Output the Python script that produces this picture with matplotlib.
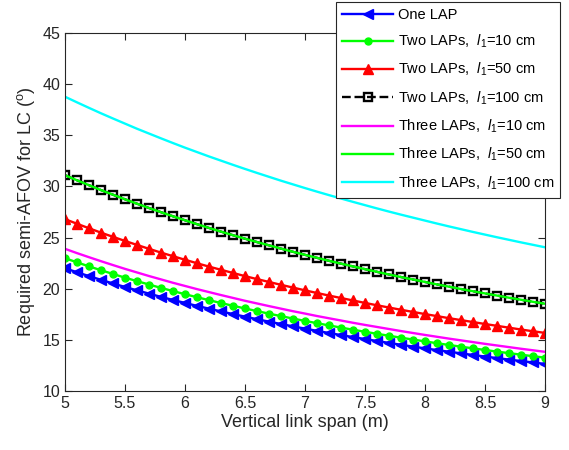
# Required semi-AFOV vs vertical link span, MATLAB-style line plot

import numpy as np
import matplotlib
matplotlib.use('Agg')
import matplotlib.pyplot as plt
import matplotlib.ticker as ticker

plt.rcParams['font.family'] = ['Liberation Sans', 'DejaVu Sans']
plt.rcParams['mathtext.fontset'] = 'custom'
plt.rcParams['mathtext.rm'] = 'Liberation Sans'
plt.rcParams['mathtext.it'] = 'Liberation Sans:italic'

# vertical link span (m), 5 to 9 in 0.1 m steps
span = [5.0, 5.1, 5.2, 5.3, 5.4, 5.5, 5.6, 5.7, 5.8, 5.9,
        6.0, 6.1, 6.2, 6.3, 6.4, 6.5, 6.6, 6.7, 6.8, 6.9,
        7.0, 7.1, 7.2, 7.3, 7.4, 7.5, 7.6, 7.7, 7.8, 7.9,
        8.0, 8.1, 8.2, 8.3, 8.4, 8.5, 8.6, 8.7, 8.8, 8.9, 9.0]

# required semi-AFOV (deg)
one_lap = [22.00, 21.61, 21.23, 20.87, 20.51, 20.17, 19.84, 19.52, 19.20, 18.90,
           18.61, 18.32, 18.05, 17.78, 17.52, 17.27, 17.02, 16.78, 16.55, 16.32,
           16.10, 15.88, 15.67, 15.47, 15.27, 15.08, 14.89, 14.70, 14.52, 14.34,
           14.17, 14.00, 13.84, 13.68, 13.52, 13.37, 13.22, 13.07, 12.93, 12.79, 12.65]
two_lap_10 = [22.98, 22.58, 22.18, 21.81, 21.44, 21.08, 20.74, 20.41, 20.08, 19.77,
              19.46, 19.17, 18.88, 18.60, 18.33, 18.07, 17.81, 17.56, 17.32, 17.08,
              16.85, 16.63, 16.41, 16.20, 15.99, 15.79, 15.59, 15.40, 15.21, 15.03,
              14.85, 14.67, 14.50, 14.33, 14.17, 14.01, 13.85, 13.70, 13.55, 13.40, 13.26]
two_lap_50 = [26.80, 26.35, 25.91, 25.48, 25.07, 24.67, 24.28, 23.90, 23.53, 23.18,
              22.83, 22.49, 22.16, 21.85, 21.54, 21.23, 20.94, 20.66, 20.38, 20.11,
              19.84, 19.58, 19.33, 19.09, 18.85, 18.61, 18.38, 18.16, 17.94, 17.73,
              17.52, 17.32, 17.12, 16.93, 16.74, 16.55, 16.37, 16.19, 16.01, 15.84, 15.68]
two_lap_100 = [31.10, 30.60, 30.12, 29.64, 29.19, 28.74, 28.31, 27.89, 27.48, 27.08,
               26.69, 26.31, 25.94, 25.58, 25.23, 24.89, 24.56, 24.24, 23.92, 23.61,
               23.31, 23.02, 22.73, 22.45, 22.18, 21.91, 21.65, 21.39, 21.14, 20.90,
               20.66, 20.42, 20.20, 19.97, 19.75, 19.54, 19.33, 19.12, 18.92, 18.72, 18.53]
three_lap_10 = [23.90, 23.48, 23.08, 22.69, 22.31, 21.94, 21.59, 21.24, 20.91, 20.58,
                20.27, 19.96, 19.67, 19.38, 19.10, 18.82, 18.56, 18.30, 18.05, 17.80,
                17.57, 17.33, 17.11, 16.89, 16.67, 16.46, 16.26, 16.06, 15.86, 15.67,
                15.48, 15.30, 15.12, 14.95, 14.78, 14.61, 14.45, 14.29, 14.13, 13.98, 13.83]
# lies on top of the two-LAP 100 cm curve
three_lap_50 = [31.10, 30.60, 30.12, 29.64, 29.19, 28.74, 28.31, 27.89, 27.48, 27.08,
                26.69, 26.31, 25.94, 25.58, 25.23, 24.89, 24.56, 24.24, 23.92, 23.61,
                23.31, 23.02, 22.73, 22.45, 22.18, 21.91, 21.65, 21.39, 21.14, 20.90,
                20.66, 20.42, 20.20, 19.97, 19.75, 19.54, 19.33, 19.12, 18.92, 18.72, 18.53]
three_lap_100 = [38.77, 38.22, 37.68, 37.15, 36.64, 36.14, 35.64, 35.17, 34.70, 34.24,
                 33.79, 33.36, 32.93, 32.52, 32.11, 31.71, 31.32, 30.94, 30.56, 30.20,
                 29.84, 29.49, 29.15, 28.82, 28.49, 28.17, 27.85, 27.54, 27.24, 26.95,
                 26.66, 26.37, 26.09, 25.82, 25.55, 25.29, 25.03, 24.78, 24.53, 24.29, 24.05]

labels = ['One LAP',
          r'Two LAPs,  $\mathit{l_1}$=10 cm',
          r'Two LAPs,  $\mathit{l_1}$=50 cm',
          r'Two LAPs,  $\mathit{l_1}$=100 cm',
          r'Three LAPs,  $\mathit{l_1}$=10 cm',
          r'Three LAPs,  $\mathit{l_1}$=50 cm',
          r'Three LAPs,  $\mathit{l_1}$=100 cm']

fig = plt.figure(figsize=(5.69, 4.5), dpi=100)
ax = fig.add_axes([65/569, 59/450, 480/569, 358/450])

lw = 1.7
ax.plot(span, one_lap, '-<', color=(0, 0, 1), lw=lw, ms=7, label=labels[0])
ax.plot(span, two_lap_10, '-o', color=(0, 1, 0), lw=lw, ms=5, label=labels[1])
ax.plot(span, two_lap_50, '-^', color=(1, 0, 0), lw=lw, ms=7, label=labels[2])
ax.plot(span, two_lap_100, '--s', color='k', lw=lw, ms=5.5, mfc='none',
        mew=1.7, label=labels[3])
ax.plot(span, three_lap_10, '-', color=(1, 0, 1), lw=lw, label=labels[4])
ax.plot(span, three_lap_50, '-', color=(0, 1, 0), lw=lw, label=labels[5])
ax.plot(span, three_lap_100, '-', color=(0, 1, 1), lw=lw, label=labels[6])

ax.set_xlim(5, 9)
ax.set_ylim(10, 45)
ax.xaxis.set_major_locator(ticker.MultipleLocator(0.5))
ax.yaxis.set_major_locator(ticker.MultipleLocator(5))
ax.xaxis.set_major_formatter(ticker.FormatStrFormatter('%g'))
ax.tick_params(direction='in', top=True, right=True, length=5,
               labelsize=11.5, colors='0.15')
for s in ax.spines.values():
    s.set_color('0.15')
    s.set_linewidth(0.8)

ax.set_xlabel('Vertical link span (m)', fontsize=13, color='0.15', labelpad=2)
ax.set_ylabel(r'Required semi-AFOV for LC ($^{\mathrm{o}}$)', fontsize=13,
              color='0.15', labelpad=4)

leg = ax.legend(loc='upper right', bbox_to_anchor=(1.031, 1.087), fontsize=10.5,
                fancybox=False, framealpha=1, edgecolor='0.15',
                handlelength=3.5, handletextpad=0.3, labelspacing=0.75,
                borderpad=0.4, borderaxespad=0)
leg.get_frame().set_linewidth(0.8)

plt.savefig('out.png', dpi=100)
